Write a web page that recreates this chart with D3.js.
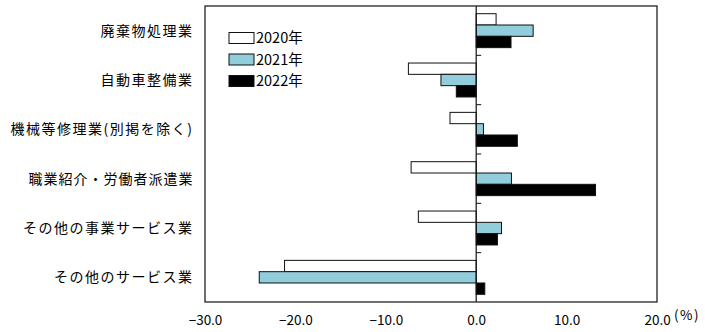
<!DOCTYPE html>
<html><head><meta charset="utf-8">
<script src="https://cdn.jsdelivr.net/npm/d3@7"></script>
<style>
html,body{margin:0;padding:0;background:#fff;}
svg{display:block;font-family:"Noto Sans CJK JP","Noto Sans",sans-serif;}
</style></head>
<body>
<svg id="chart" width="705" height="332"></svg>
<script>
const categories = ["廃棄物処理業","自動車整備業","機械等修理業(別掲を除く)","職業紹介・労働者派遣業","その他の事業サービス業","その他のサービス業"];
const series = ["2020年","2021年","2022年"];
const values2020 = [2.2, -7.5, -2.9, -7.2, -6.4, -21.2];
const values2021 = [6.3, -3.9, 0.8, 3.9, 2.8, -24.0];
const values2022 = [3.85, -2.2, 4.55, 13.2, 2.35, 0.95];
const xTicks = [-30, -20, -10, 0, 10, 20];
const colors = ["#ffffff", "#92cddc", "#000000"];

const allValues = [values2020, values2021, values2022];
const svg = d3.select("#chart");
const L = 205, R = 657, T = 6, B = 302;

const x = d3.scaleLinear().domain([-30, 20]).range([L, R]);
const y = d3.scaleBand().domain(categories).range([T, B]).padding(0);
const ys = d3.scaleBand().domain(series).range([0, y.bandwidth()]).paddingInner(0).paddingOuter(0.68);

// bars
series.forEach((s, si) => {
  svg.append("g").selectAll("rect").data(categories).join("rect")
    .attr("x", (c, i) => x(Math.min(0, allValues[si][i])))
    .attr("y", c => y(c) + ys(s))
    .attr("width", (c, i) => Math.abs(x(allValues[si][i]) - x(0)))
    .attr("height", ys.bandwidth())
    .attr("fill", colors[si])
    .attr("stroke", "#111")
    .attr("stroke-width", 1);
});

// zero line + ticks
const x0 = x(0);
svg.append("line").attr("x1", x0).attr("x2", x0).attr("y1", T).attr("y2", B)
  .attr("stroke", "#111").attr("stroke-width", 1.2);
svg.append("g").selectAll("line").data(categories.slice(1)).join("line")
  .attr("x1", x0).attr("x2", x0 + 5)
  .attr("y1", c => y(c)).attr("y2", c => y(c))
  .attr("stroke", "#111").attr("stroke-width", 1);

// frame
svg.append("rect").attr("x", L).attr("y", T).attr("width", R - L).attr("height", B - T)
  .attr("fill", "none").attr("stroke", "#222").attr("stroke-width", 1.3);

// x axis labels
const xAxis = d3.axisBottom(x).tickValues(xTicks).tickSize(0).tickPadding(0)
  .tickFormat(d3.format(".1f"));
const gx = svg.append("g").attr("transform", `translate(0,${B + 13})`).call(xAxis);
gx.select(".domain").remove();
gx.selectAll("text").attr("font-size", 13.5).attr("fill", "#000")
  .attr("font-family", "'Noto Sans CJK JP', sans-serif");
svg.append("text").attr("x", 674).attr("y", 320).attr("font-size", 13.5)
  .attr("letter-spacing", 1.5).text("(%)");

// category labels
svg.append("g").selectAll("text").data(categories).join("text")
  .attr("x", 193.5).attr("y", c => y(c) + y.bandwidth() / 2)
  .attr("dy", "0.35em")
  .attr("text-anchor", "end")
  .attr("font-size", 14)
  .attr("letter-spacing", d => d.includes("・") ? 1.0 : 1.5)
  .attr("fill", "#000")
  .text(d => d);

// legend
const lg = svg.append("g");
series.forEach((s, i) => {
  const yy = 32.5 + i * 21.5;
  lg.append("rect").attr("x", 229).attr("y", yy).attr("width", 25).attr("height", 11)
    .attr("fill", colors[i]).attr("stroke", "#111").attr("stroke-width", 1);
  lg.append("text").attr("x", 256).attr("y", yy + 5.5).attr("dy", "0.36em")
    .attr("font-size", 14.5).text(s);
});
</script>
</body></html>
